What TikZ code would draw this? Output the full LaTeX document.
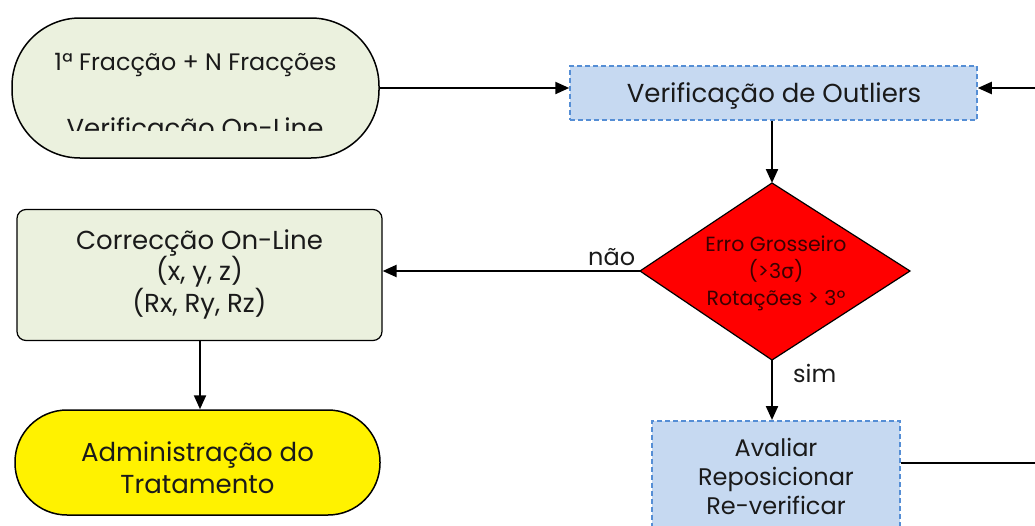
\documentclass[tikz,border=0pt]{standalone}
\usepackage{fontspec}
\setmainfont{Poppins}
\newfontfamily\symfont{DejaVu Sans}
\usetikzlibrary{shapes.geometric,arrows.meta}
\definecolor{lgreen}{HTML}{EBF1DE}
\definecolor{lblue}{HTML}{C6D9F1}
\definecolor{dblue}{HTML}{558ED5}
\definecolor{txtc}{HTML}{1A1A1A}
\definecolor{dred}{HTML}{3B0000}
\tikzset{
  txt/.style={text=txtc, font=\fontsize{26}{31}\selectfont, align=center, inner sep=0pt},
  stadium/.style={draw=black, line width=1.5pt, rounded corners=#1, inner sep=0pt},
  greenbox/.style={draw=black, line width=1.2pt, fill=lgreen, rounded corners=9pt, inner sep=0pt},
  bluebox/.style={draw=dblue, line width=1.5pt, dash pattern=on 5pt off 3pt, fill=lblue, inner sep=0pt},
  conn/.style={line width=2.2pt, -{Triangle[length=14pt,width=12pt]}},
  plain/.style={line width=2.2pt},
  lbl/.style={text=txtc, font=\fontsize{24}{26}\selectfont, inner sep=0pt}
}
\begin{document}
\begin{tikzpicture}[x=1pt,y=-1pt]
\useasboundingbox (0,0) rectangle (1035,525);
\clip (0,0) rectangle (1035,525);
% start stadium
\node[stadium=68pt, fill=lgreen, minimum width=367pt, minimum height=140pt] (start) at (195.5,88) {};
\node[txt, font=\fontsize{23.8}{26}\selectfont, anchor=base] (s1) at (195.5,70) {1ª Fracção + N Fracções};
\begin{scope}
\clip (20,100) rectangle (375,130);
\node[txt, anchor=base] (s2) at (195,137) {Verificação On-Line};
\end{scope}
% verification box
\node[bluebox, minimum width=407pt, minimum height=54pt] (verif) at (773.5,93) {};
\node[txt] at (774,96) {Verificação de Outliers};
% decision
\coordinate (dt) at (772,183);
\coordinate (dl) at (640,271);
\coordinate (dr) at (910,271);
\coordinate (db) at (772,360);
\draw[line width=1.2pt, fill=red] (dt) -- (dr) -- (db) -- (dl) -- cycle;
\node[txt, text=dred, font=\fontsize{20.5}{27}\selectfont] (dec) at (776,273) {Erro Grosseiro\\(>3{\symfont σ})\\Rotações > 3º};
% correction box
\node[greenbox, minimum width=365pt, minimum height=131pt] (corr) at (199.5,275) {};
\node[txt, font=\fontsize{26}{31.5}\selectfont] at (199.5,274) {Correcção On-Line\\(x, y, z)\\(Rx, Ry, Rz)};
% administration
\node[stadium=52pt, fill=yellow, minimum width=365pt, minimum height=105pt] (admin) at (197.5,462.5) {};
\node[txt, font=\fontsize{26}{32}\selectfont] at (197.5,468) {Administração do\\Tratamento};
% avaliar box
\node[bluebox, minimum width=248pt, minimum height=130pt, anchor=north] (aval) at (776,420) {};
\node[txt, font=\fontsize{24}{29}\selectfont] at (776,476) {Avaliar\\Reposicionar\\Re-verificar};
% connectors
\coordinate (rin) at (1040,88);
\coordinate (rout) at (1040,463);
\draw[conn] (start.east |- 0,88) -- (verif.west |- 0,88);
\draw[conn] (rin) -- (verif.east |- 0,88);
\draw[conn] (verif.south -| dt) -- (dt);
\draw[conn] (dl) -- (corr.east |- dl) node[lbl, pos=0.11, above=4pt] {não};
\draw[conn] (db) -- (aval.north -| db) node[lbl, pos=0.22, right=20pt] {sim};
\draw[conn] (corr.south -| 200,0) -- (admin.north -| 200,0);
\draw[plain] (aval.east |- rout) -- (rout);
\end{tikzpicture}
\end{document}
